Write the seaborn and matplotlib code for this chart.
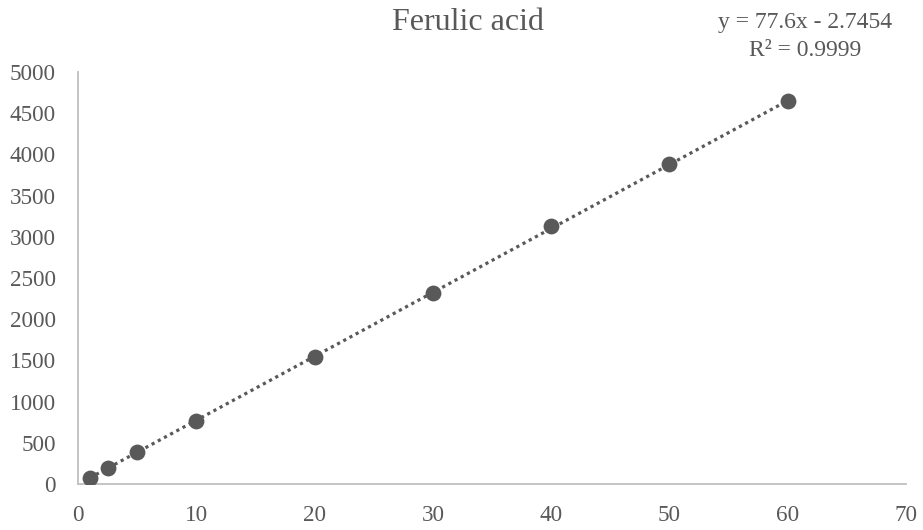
import numpy as np
import pandas as pd
import matplotlib
matplotlib.use("Agg")
import matplotlib.pyplot as plt
import seaborn as sns

# Calibration standards: concentration vs. peak area
concentration = [1, 2.5, 5, 10, 20, 30, 40, 50, 60]
peak_area = [75, 190, 385, 770, 1545, 2320, 3130, 3890, 4645]

# Linear trendline coefficients
slope = 77.6
intercept = -2.7454
r_squared = 0.9999

x_ticks = [0, 10, 20, 30, 40, 50, 60, 70]
y_ticks = [0, 500, 1000, 1500, 2000, 2500, 3000, 3500, 4000, 4500, 5000]

sns.set_theme(style="white")
plt.rcParams["font.family"] = ["Liberation Serif", "DejaVu Serif"]

grey = "#595959"
axis_grey = "#bfbfbf"

df = pd.DataFrame({"conc": concentration, "area": peak_area})
trend_x = np.array([min(concentration), max(concentration)])
trend = pd.DataFrame({"conc": trend_x, "area": slope * trend_x + intercept})

fig = plt.figure(figsize=(9.23, 5.30), dpi=100)
ax = fig.add_axes([0.0845, 0.0868, 0.8971, 0.7772])

sns.lineplot(data=trend, x="conc", y="area", ax=ax, color=grey,
             linestyle=(0, (1, 1.2)), linewidth=2.3, zorder=2)
sns.scatterplot(data=df, x="conc", y="area", ax=ax, color=grey,
                s=130, edgecolor=grey, linewidth=0, zorder=3)

ax.set_xlim(0, 70)
ax.set_ylim(0, 5000)
ax.set_xticks(x_ticks)
ax.set_yticks(y_ticks)
ax.set_xlabel("")
ax.set_ylabel("")
ax.tick_params(axis="both", labelsize=16.7, colors=grey, length=0)
ax.tick_params(axis="x", pad=15)
ax.tick_params(axis="y", pad=16)

for side in ["top", "right"]:
    ax.spines[side].set_visible(False)
for side in ["left", "bottom"]:
    ax.spines[side].set_color(axis_grey)
    ax.spines[side].set_linewidth(1.3)

fig.text(0.5075, 0.957, "Ferulic acid", ha="center", va="center",
         fontsize=23, color=grey)
fig.text(0.872, 0.958, f"y = {slope}x - {abs(intercept)}", ha="center",
         va="center", fontsize=17, color=grey)
fig.text(0.872, 0.905, f"R² = {r_squared}", ha="center", va="center",
         fontsize=17, color=grey)

fig.savefig("out.png", dpi=100)
